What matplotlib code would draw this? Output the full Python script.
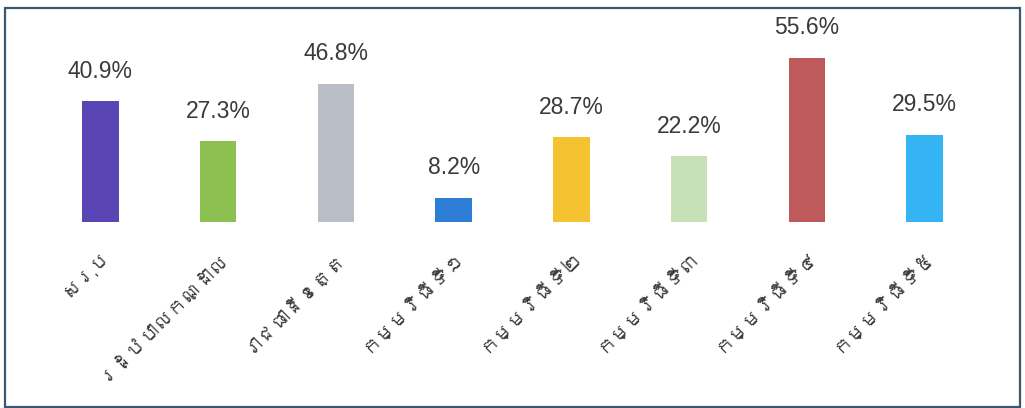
import matplotlib
matplotlib.use("Agg")
import matplotlib.pyplot as plt
from matplotlib import font_manager
from matplotlib.ft2font import FT2Font
from matplotlib.patches import Rectangle

categories = ["សរុប", "រដ្ឋបាលកណ្ដាល", "រាជធានីខេត្ត", "កម្មវិធីទី១",
              "កម្មវិធីទី២", "កម្មវិធីទី៣", "កម្មវិធីទី៤", "កម្មវិធីទី៥"]
values = [40.9, 27.3, 46.8, 8.2, 28.7, 22.2, 55.6, 29.5]
value_labels = ["40.9%", "27.3%", "46.8%", "8.2%", "28.7%", "22.2%", "55.6%", "29.5%"]
colors = ["#5a45b5", "#8cc152", "#b9bec7", "#2d7dd6",
          "#f6c232", "#c7e0b6", "#bf5a5c", "#35b4f3"]


def find_khmer_font():
    for f in font_manager.fontManager.ttflist:
        try:
            if 0x1780 in FT2Font(f.fname).get_charmap():
                return f.name
        except Exception:
            pass
    return None


khmer = find_khmer_font()
label_family = [khmer, "DejaVu Sans"] if khmer else ["DejaVu Sans"]

fig = plt.figure(figsize=(10.25, 4.08), dpi=100)
ax = fig.add_axes([0.0406, 0.456, 0.919, 0.434])

x = range(len(categories))
bars = ax.bar(x, values, width=0.31, color=colors)

for b, lab in zip(bars, value_labels):
    ax.annotate(lab, (b.get_x() + b.get_width() / 2, b.get_height()),
                xytext=(0, 17), textcoords="offset points",
                ha="center", va="baseline", fontsize=16.5,
                family=["Liberation Sans Narrow", "Liberation Sans"],
                color="#3a3a3a")

ax.set_xlim(-0.5, 7.5)
ax.set_ylim(0, 60)
ax.set_xticks(list(x))
ax.set_xticklabels(categories, rotation=45, ha="right", va="top",
                   rotation_mode="anchor", fontsize=14, family=label_family,
                   color="#3a3a3a")
ax.tick_params(axis="x", length=0, pad=18)
ax.set_yticks([])
for s in ax.spines.values():
    s.set_visible(False)

# outer frame
fig.patches.append(Rectangle((5 / 1025, 1 / 408), 1015 / 1025, 399 / 408,
                             transform=fig.transFigure, fill=False,
                             edgecolor="#3d5770", lw=1.6))

fig.savefig("out.png", dpi=100, facecolor="white")
